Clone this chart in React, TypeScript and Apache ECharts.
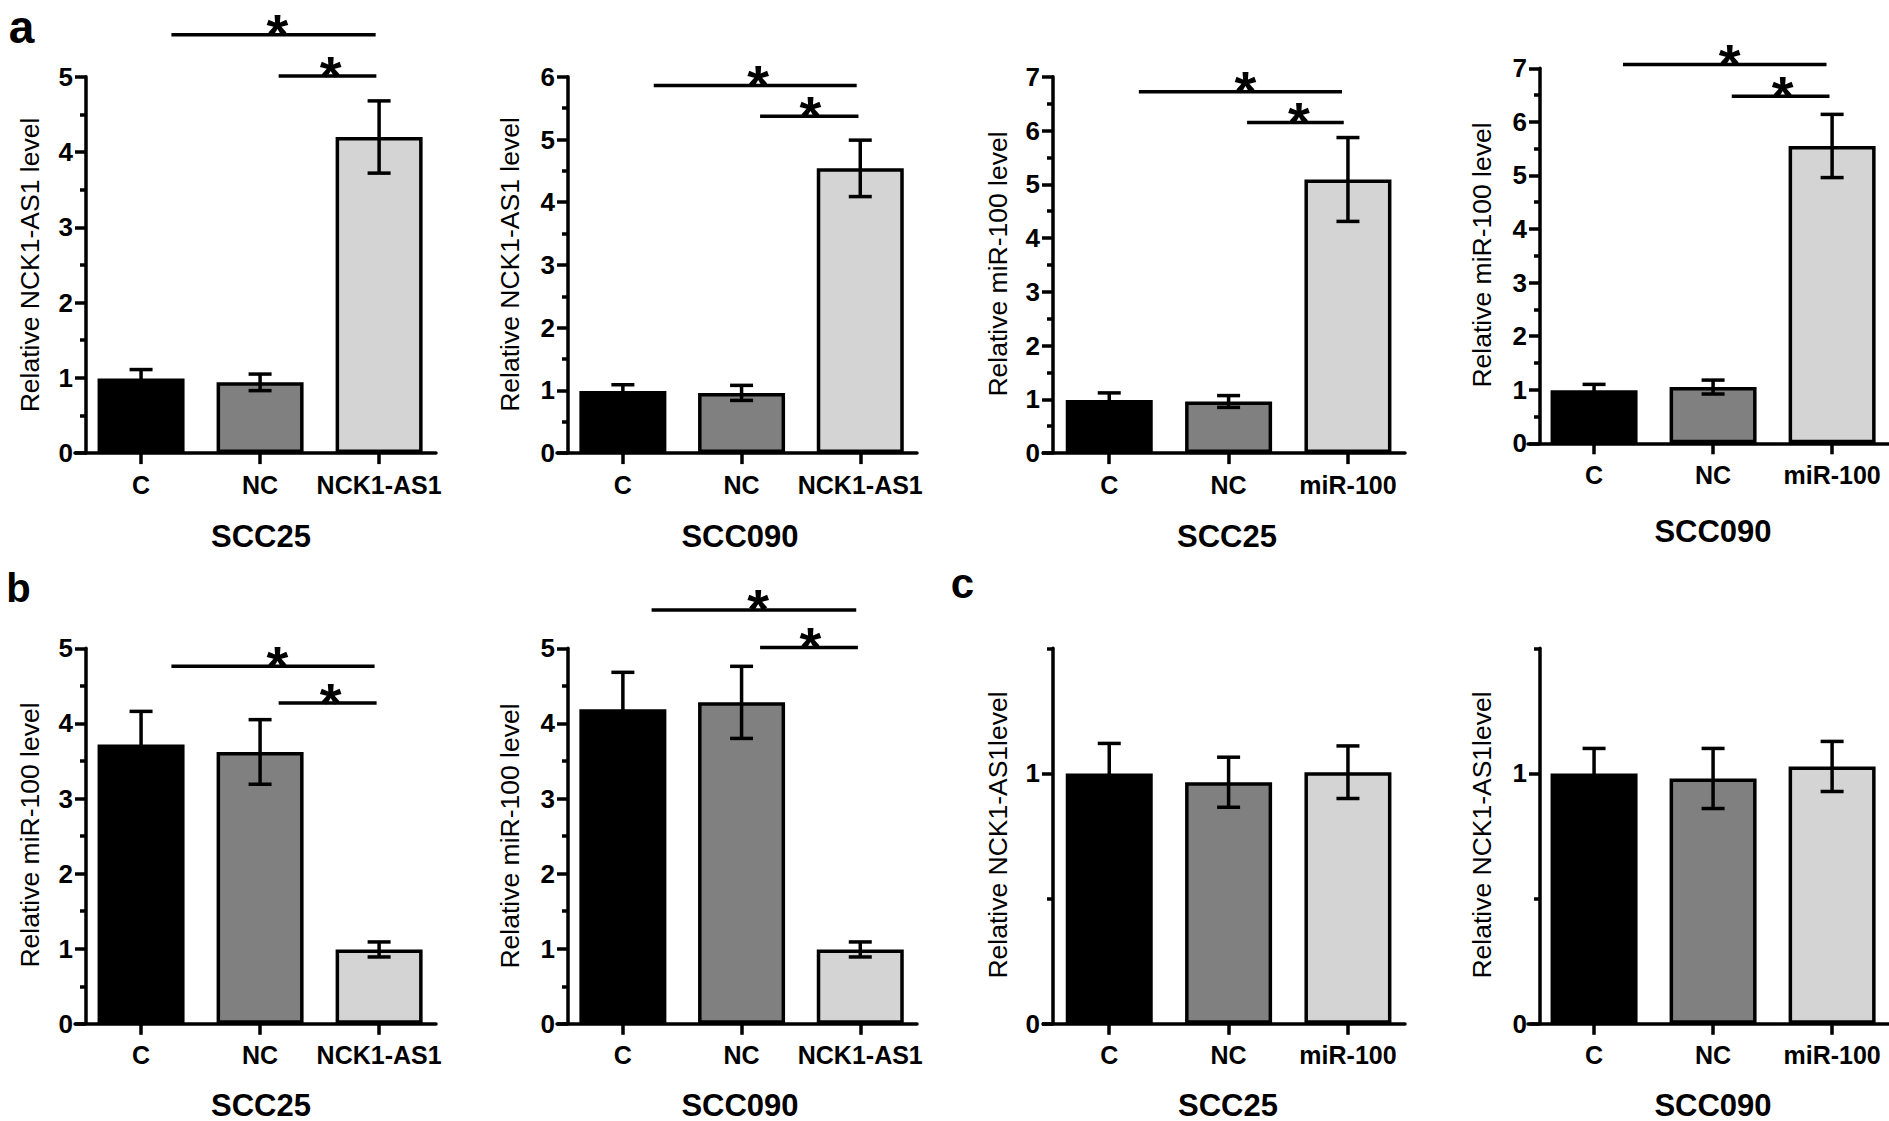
import React, { useEffect, useRef } from "react";
import * as echarts from "echarts";

const FONT = "'Liberation Sans', Arial, Helvetica, sans-serif";

// ---------- data ----------
const catsNCK = ["C", "NC", "NCK1-AS1"];
const catsMiR = ["C", "NC", "miR-100"];

const yTitleNCK = "Relative NCK1-AS1 level";
const yTitleMiR = "Relative miR-100 level";
const yTitleNCKc = "Relative NCK1-AS1level";

const cellTitles = ["SCC25", "SCC090", "SCC25", "SCC090", "SCC25", "SCC090", "SCC25", "SCC090"];
const panelLetters = ["a", "b", "c"];

// panel a
const a1Mean = [0.99, 0.94, 4.2];
const a1Err = [0.12, 0.11, 0.48];
const a2Mean = [0.99, 0.96, 4.54];
const a2Err = [0.1, 0.12, 0.45];
const a3Mean = [0.99, 0.96, 5.09];
const a3Err = [0.13, 0.11, 0.78];
const a4Mean = [0.99, 1.05, 5.55];
const a4Err = [0.11, 0.13, 0.59];
// panel b
const b1Mean = [3.72, 3.62, 0.99];
const b1Err = [0.44, 0.43, 0.1];
const b2Mean = [4.19, 4.28, 0.99];
const b2Err = [0.49, 0.48, 0.1];
// panel c
const c1Mean = [1.0, 0.965, 1.005];
const c1Err = [0.12, 0.1, 0.105];
const c2Mean = [1.0, 0.98, 1.028];
const c2Err = [0.1, 0.12, 0.1];

// significance brackets: [from (category units), to, level (data units), star position]
const a1Sig = [[0.255, 1.971, 5.56, 1.145], [1.156, 1.977, 5.01, 1.593]];
const a2Sig = [[0.26, 1.97, 5.86, 1.14], [1.156, 1.985, 5.37, 1.58]];
const a3Sig = [[0.248, 1.95, 6.72, 1.14], [1.155, 1.965, 6.15, 1.59]];
const a4Sig = [[0.243, 1.953, 7.07, 1.14], [1.157, 1.978, 6.48, 1.584]];
const b1Sig = [[0.255, 1.962, 4.76, 1.145], [1.156, 1.979, 4.27, 1.593]];
const b2Sig = [[0.242, 1.966, 5.51, 1.14], [1.156, 1.98, 5.01, 1.58]];

const yMax = [5, 6, 7, 7, 5, 5, 1.5, 1.5];

// ---------- styling / layout ----------
const barColors = ["#000000", "#808080", "#d4d4d4"];
const X_MIN = -0.555;
const X_MAX = 2.478;

const layout = [
  { left: 75, top: 76.8, width: 361, height: 376.3, yOffset: -11 },
  { left: 557, top: 76.8, width: 360, height: 376.3, yOffset: -11 },
  { left: 1043, top: 76.8, width: 362, height: 376.3, yOffset: -10 },
  { left: 1528, top: 68.3, width: 361, height: 375, yOffset: -12 },
  { left: 75, top: 648.3, width: 361, height: 375.5, yOffset: -11 },
  { left: 557, top: 648.3, width: 360, height: 375.5, yOffset: -11 },
  { left: 1043, top: 648.3, width: 362, height: 375.5, yOffset: -10 },
  { left: 1528, top: 648.3, width: 361, height: 375.5, yOffset: -12 },
];
const titlePos = [
  [261, 536], [740, 536], [1227, 536], [1713, 531],
  [261, 1105], [740, 1105], [1228, 1105], [1713, 1105],
];
const yTitlePos = [
  [30, 265], [510, 264.5], [998, 264], [1482, 255],
  [30, 835], [510, 836], [998, 835], [1482, 835],
];
const letterPos = [
  { x: 21.5, y: 26.5, size: 46 },
  { x: 18.5, y: 587.5, size: 40 },
  { x: 962.5, y: 583, size: 42 },
];

const panels = [
  { cats: catsNCK, mean: a1Mean, err: a1Err, sig: a1Sig, yTitle: yTitleNCK },
  { cats: catsNCK, mean: a2Mean, err: a2Err, sig: a2Sig, yTitle: yTitleNCK },
  { cats: catsMiR, mean: a3Mean, err: a3Err, sig: a3Sig, yTitle: yTitleMiR },
  { cats: catsMiR, mean: a4Mean, err: a4Err, sig: a4Sig, yTitle: yTitleMiR },
  { cats: catsNCK, mean: b1Mean, err: b1Err, sig: b1Sig, yTitle: yTitleMiR },
  { cats: catsNCK, mean: b2Mean, err: b2Err, sig: b2Sig, yTitle: yTitleMiR },
  { cats: catsMiR, mean: c1Mean, err: c1Err, sig: null, yTitle: yTitleNCKc },
  { cats: catsMiR, mean: c2Mean, err: c2Err, sig: null, yTitle: yTitleNCKc },
];

const LW = 3.5;
const LINE = { color: "#000", width: LW };

function buildOption() {
  const grid: any[] = [];
  const xAxis: any[] = [];
  const yAxis: any[] = [];
  const series: any[] = [];
  const graphic: any[] = [];

  panels.forEach((p, i) => {
    const L = layout[i];
    const max = yMax[i];
    const small = max < 2;
    grid.push({ left: L.left, top: L.top, width: L.width, height: L.height });

    xAxis.push({
      type: "value",
      gridIndex: i,
      min: X_MIN,
      max: X_MAX,
      axisLine: { show: true, onZero: false, lineStyle: LINE },
      axisTick: { show: true, customValues: [0, 1, 2], length: 11, lineStyle: LINE },
      axisLabel: {
        show: true,
        customValues: [0, 1, 2],
        formatter: (v: number) => p.cats[Math.round(v)] ?? "",
        margin: 19,
        color: "#000",
        fontSize: 25,
        fontWeight: "bold",
        fontFamily: FONT,
      },
      splitLine: { show: false },
    });

    const mainY = yAxis.length;
    const yLabel: any = {
      show: true,
      margin: 13,
      color: "#000",
      fontSize: 26,
      fontWeight: "bold",
      fontFamily: FONT,
    };
    const yTick: any = { show: true, length: 11, lineStyle: LINE };
    if (small) {
      yLabel.customValues = [0, 1];
      yLabel.formatter = (v: number) => String(Math.round(v));
      yTick.customValues = [0, 1];
    }
    yAxis.push({
      type: "value",
      gridIndex: i,
      position: "left",
      offset: L.yOffset,
      min: 0,
      max,
      interval: small ? 0.5 : 1,
      axisLine: { show: true, onZero: false, lineStyle: LINE },
      axisTick: yTick,
      minorTick: { show: !small, splitNumber: 2, length: 6, lineStyle: LINE },
      axisLabel: yLabel,
      splitLine: { show: false },
      minorSplitLine: { show: false },
    });
    if (small) {
      yAxis.push({
        type: "value",
        gridIndex: i,
        position: "left",
        offset: L.yOffset,
        min: 0,
        max,
        interval: 0.5,
        axisLine: { show: false, onZero: false },
        axisTick: { show: true, customValues: [0.5, 1.5], length: 6, lineStyle: LINE },
        axisLabel: { show: false },
        splitLine: { show: false },
      });
    }

    series.push({
      type: "bar",
      xAxisIndex: i,
      yAxisIndex: mainY,
      barWidth: 87,
      silent: true,
      z: 2,
      itemStyle: { borderColor: "#000", borderWidth: LW },
      data: p.mean.map((v, k) => ({ value: [k, v], itemStyle: { color: barColors[k] } })),
    });

    series.push({
      type: "custom",
      xAxisIndex: i,
      yAxisIndex: mainY,
      silent: true,
      z: 3,
      data: p.mean.map((v, k) => [k, v, p.err[k]]),
      renderItem: (params: any, api: any) => {
        const x = api.value(0);
        const m = api.value(1);
        const e = api.value(2);
        const t = api.coord([x, m + e]);
        const b = api.coord([x, m - e]);
        const hw = 11.5;
        const st = { stroke: "#000", lineWidth: LW };
        return {
          type: "group",
          children: [
            { type: "line", shape: { x1: t[0], y1: t[1], x2: b[0], y2: b[1] }, style: st },
            { type: "line", shape: { x1: t[0] - hw, y1: t[1], x2: t[0] + hw, y2: t[1] }, style: st },
            { type: "line", shape: { x1: b[0] - hw, y1: b[1], x2: b[0] + hw, y2: b[1] }, style: st },
          ],
        };
      },
    });

    if (p.sig) {
      series.push({
        type: "custom",
        xAxisIndex: i,
        yAxisIndex: mainY,
        silent: true,
        clip: false,
        z: 4,
        data: p.sig,
        renderItem: (params: any, api: any) => {
          const x1 = api.value(0);
          const x2 = api.value(1);
          const lv = api.value(2);
          const sx = api.value(3);
          const p1 = api.coord([x1, lv]);
          const p2 = api.coord([x2, lv]);
          const ps = api.coord([sx, lv]);
          return {
            type: "group",
            children: [
              {
                type: "line",
                shape: { x1: p1[0], y1: p1[1], x2: p2[0], y2: p2[1] },
                style: { stroke: "#000", lineWidth: LW },
              },
              {
                type: "text",
                x: ps[0],
                y: ps[1] - 1,
                style: {
                  text: "*",
                  fill: "#000",
                  fontSize: 56,
                  fontWeight: "bold",
                  fontFamily: FONT,
                  align: "center",
                  verticalAlign: "middle",
                },
              },
            ],
          };
        },
      });
    }

    graphic.push({
      type: "text",
      x: titlePos[i][0],
      y: titlePos[i][1],
      silent: true,
      style: {
        text: cellTitles[i],
        fill: "#000",
        fontSize: 31,
        fontWeight: "bold",
        fontFamily: FONT,
        align: "center",
        verticalAlign: "middle",
        textAlign: "center",
        textVerticalAlign: "middle",
      },
    });
    graphic.push({
      type: "text",
      x: yTitlePos[i][0],
      y: yTitlePos[i][1],
      rotation: Math.PI / 2,
      silent: true,
      style: {
        text: p.yTitle,
        fill: "#000",
        fontSize: 26.5,
        fontWeight: "normal",
        fontFamily: FONT,
        align: "center",
        verticalAlign: "middle",
        textAlign: "center",
        textVerticalAlign: "middle",
      },
    });
  });

  panelLetters.forEach((t, i) => {
    const lp = letterPos[i];
    graphic.push({
      type: "text",
      x: lp.x,
      y: lp.y,
      silent: true,
      style: {
        text: t,
        fill: "#000",
        fontSize: lp.size,
        fontWeight: "bold",
        fontFamily: FONT,
        align: "center",
        verticalAlign: "middle",
        textAlign: "center",
        textVerticalAlign: "middle",
      },
    });
  });

  return {
    animation: false,
    backgroundColor: "#ffffff",
    textStyle: { fontFamily: FONT },
    grid,
    xAxis,
    yAxis,
    series,
    graphic,
  };
}

export default function App() {
  const ref = useRef<HTMLDivElement | null>(null);
  useEffect(() => {
    if (!ref.current) return;
    const chart = echarts.init(ref.current, undefined, { renderer: "svg" });
    chart.setOption(buildOption() as any);
    return () => chart.dispose();
  }, []);
  return (
    <div
      ref={ref}
      style={{ position: "absolute", left: 0, top: 0, width: 1889, height: 1121, background: "#fff" }}
    />
  );
}
